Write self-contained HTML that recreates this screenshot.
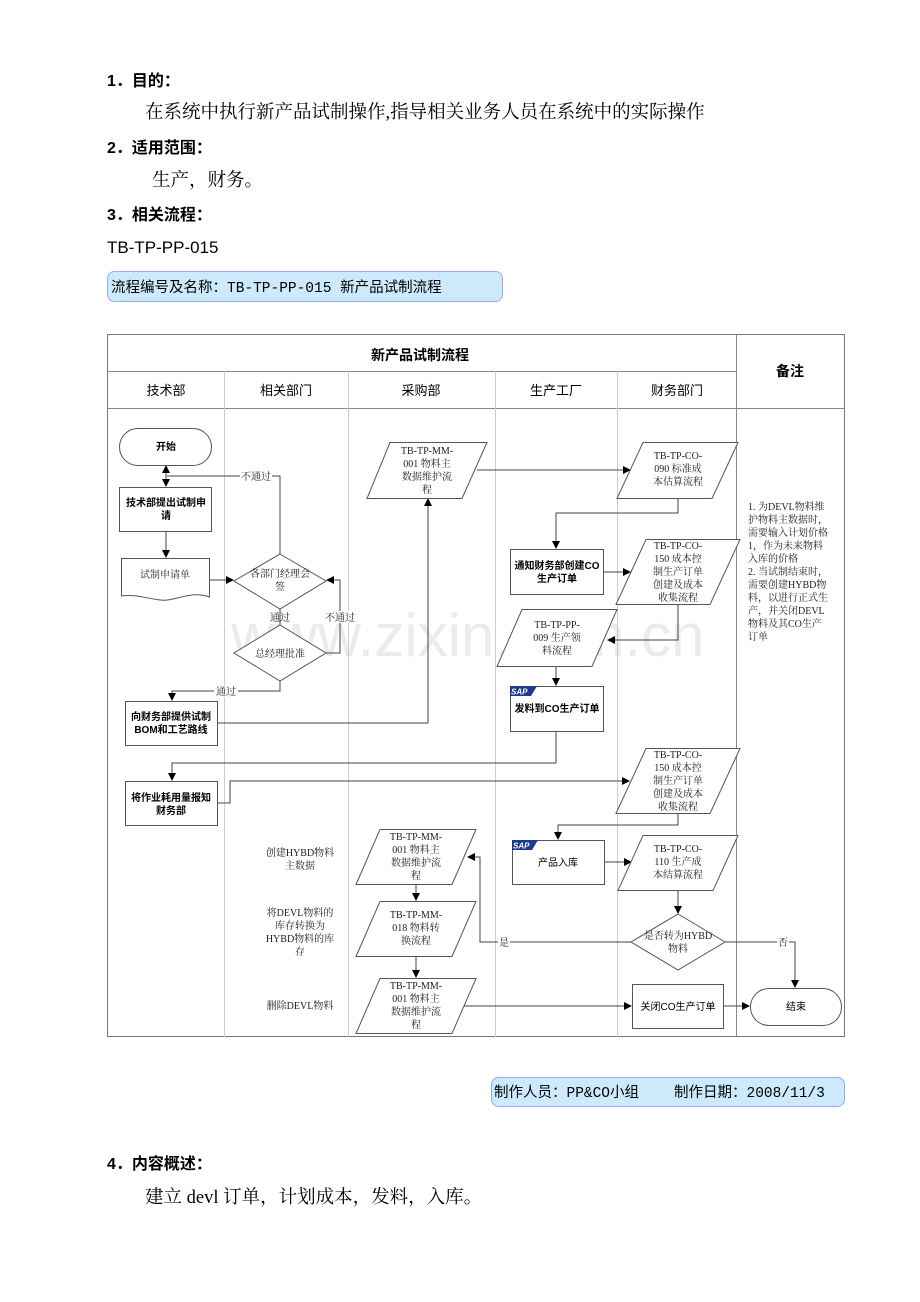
<!DOCTYPE html>
<html><head><meta charset="utf-8">
<style>
html,body{margin:0;padding:0;background:#fff;}
svg{display:block;}
.h{font-family:"Liberation Sans","Noto Sans CJK SC",sans-serif;font-weight:bold;font-size:16px;fill:#000;}
.b{font-family:"Liberation Serif","Noto Serif CJK SC",serif;font-size:18.5px;fill:#000;}
.s{font-family:"Liberation Serif","Noto Serif CJK SC",serif;font-size:10px;fill:#222;}
.sb{font-family:"Liberation Sans","Noto Sans CJK SC",sans-serif;font-size:10px;font-weight:bold;fill:#000;}
.hd{font-family:"Liberation Sans","Noto Sans CJK SC",sans-serif;font-size:13px;fill:#000;}
.m{font-family:"Liberation Mono","Noto Sans CJK SC",monospace;font-size:14.5px;fill:#000;}
.ln{stroke:#444;stroke-width:1;fill:none;}
.sh{stroke:#555;stroke-width:1;fill:#fff;}
</style></head><body>
<svg width="920" height="1302" viewBox="0 0 920 1302" xmlns="http://www.w3.org/2000/svg">
<defs>
<marker id="a" markerWidth="8" markerHeight="8" refX="7" refY="4" orient="auto" markerUnits="userSpaceOnUse">
<path d="M0,0 L8,4 L0,8 z" fill="#000"/></marker>
<marker id="as" markerWidth="8" markerHeight="8" refX="1" refY="4" orient="auto" markerUnits="userSpaceOnUse">
<path d="M8,0 L0,4 L8,8 z" fill="#000"/></marker>
</defs>

<text class="h" x="107" y="86">1．目的：</text>
<text class="b" x="145" y="118">在系统中执行新产品试制操作,指导相关业务人员在系统中的实际操作</text>
<text class="h" x="107" y="153">2．适用范围：</text>
<text class="b" x="152" y="186">生产，财务。</text>
<text class="h" x="107" y="220">3．相关流程：</text>
<text x="107" y="253" style="font-family:'Liberation Sans',sans-serif;font-size:17px;">TB-TP-PP-015</text>
<rect x="107.5" y="271.5" width="395" height="30" rx="7" fill="#cdeafd" stroke="#9aa8f0"/>
<text class="m" x="111" y="292">流程编号及名称：TB-TP-PP-015 新产品试制流程</text>

<text x="231" y="656" style="font-family:'Liberation Sans',sans-serif;font-size:60px;fill:#ebebeb;">www.zixin.com.cn</text>

<rect x="107.5" y="334.5" width="737" height="702" fill="none" stroke="#777"/>
<line x1="107" y1="371.5" x2="736" y2="371.5" stroke="#888"/>
<line x1="107" y1="408.5" x2="845" y2="408.5" stroke="#888"/>
<line x1="736.5" y1="334" x2="736.5" y2="1037" stroke="#888"/>
<line x1="224.5" y1="371" x2="224.5" y2="1037" stroke="#ccc"/>
<line x1="348.5" y1="371" x2="348.5" y2="1037" stroke="#ccc"/>
<line x1="495.5" y1="371" x2="495.5" y2="1037" stroke="#ccc"/>
<line x1="617.5" y1="371" x2="617.5" y2="1037" stroke="#ccc"/>
<text class="hd" x="420" y="360" text-anchor="middle" style="font-size:14px;font-weight:bold">新产品试制流程</text>
<text class="hd" x="790" y="376" text-anchor="middle" style="font-size:14px;font-weight:bold">备注</text>
<text class="hd" x="166" y="395" text-anchor="middle">技术部</text>
<text class="hd" x="286" y="395" text-anchor="middle">相关部门</text>
<text class="hd" x="421" y="395" text-anchor="middle">采购部</text>
<text class="hd" x="556" y="395" text-anchor="middle">生产工厂</text>
<text class="hd" x="677" y="395" text-anchor="middle">财务部门</text>

<g class="s">
<text x="748" y="510">1. 为DEVL物料维</text>
<text x="748" y="523">护物料主数据时，</text>
<text x="748" y="536">需要输入计划价格</text>
<text x="748" y="549">1，作为未来物料</text>
<text x="748" y="562">入库的价格</text>
<text x="748" y="575">2. 当试制结束时，</text>
<text x="748" y="588">需要创建HYBD物</text>
<text x="748" y="601">料，以进行正式生</text>
<text x="748" y="614">产，并关闭DEVL</text>
<text x="748" y="627">物料及其CO生产</text>
<text x="748" y="640">订单</text>
</g>

<line class="ln" x1="166" y1="466" x2="166" y2="486" marker-start="url(#as)" marker-end="url(#a)"/>
<polyline class="ln" points="280,554 280,476 167,476"/>
<rect x="240" y="470" width="32" height="12" fill="#fff"/>
<text class="s" x="256" y="480" text-anchor="middle">不通过</text>
<line class="ln" x1="166" y1="531" x2="166" y2="557" marker-end="url(#a)"/>
<line class="ln" x1="209" y1="580" x2="233" y2="580" marker-end="url(#a)"/>
<line class="ln" x1="280" y1="609" x2="280" y2="625"/>
<text class="s" x="280" y="621" text-anchor="middle">通过</text>
<polyline class="ln" points="326,653 340,653 340,580 327,580" marker-end="url(#a)"/>
<rect x="325" y="611" width="30" height="12" fill="#fff"/>
<text class="s" x="340" y="621" text-anchor="middle">不通过</text>
<polyline class="ln" points="280,681 280,691 172,691 172,700" marker-end="url(#a)"/>
<rect x="214" y="685" width="24" height="12" fill="#fff"/>
<text class="s" x="226" y="695" text-anchor="middle">通过</text>
<polyline class="ln" points="217,723 428,723 428,499" marker-end="url(#a)"/>
<line class="ln" x1="477" y1="470" x2="630" y2="470" marker-end="url(#a)"/>
<polyline class="ln" points="678,498 678,513 556,513 556,548" marker-end="url(#a)"/>
<line class="ln" x1="603" y1="572" x2="630" y2="572" marker-end="url(#a)"/>
<polyline class="ln" points="678,604 678,640 608,640" marker-end="url(#a)"/>
<line class="ln" x1="556" y1="666" x2="556" y2="685" marker-end="url(#a)"/>
<polyline class="ln" points="556,731 556,763 172,763 172,780" marker-end="url(#a)"/>
<polyline class="ln" points="217,803 230,803 230,781 629,781" marker-end="url(#a)"/>
<polyline class="ln" points="678,813 678,825 558,825 558,839" marker-end="url(#a)"/>
<line class="ln" x1="604" y1="862" x2="631" y2="862" marker-end="url(#a)"/>
<line class="ln" x1="678" y1="890" x2="678" y2="913" marker-end="url(#a)"/>
<polyline class="ln" points="631,942 480,942 480,857 468,857" marker-end="url(#a)"/>
<rect x="498" y="936" width="12" height="12" fill="#fff"/>
<text class="s" x="504" y="946" text-anchor="middle">是</text>
<polyline class="ln" points="725,942 795,942 795,987" marker-end="url(#a)"/>
<rect x="777" y="936" width="12" height="12" fill="#fff"/>
<text class="s" x="783" y="946" text-anchor="middle">否</text>
<line class="ln" x1="416" y1="884" x2="416" y2="900" marker-end="url(#a)"/>
<line class="ln" x1="416" y1="956" x2="416" y2="977" marker-end="url(#a)"/>
<line class="ln" x1="462" y1="1006" x2="631" y2="1006" marker-end="url(#a)"/>
<line class="ln" x1="723" y1="1006" x2="749" y2="1006" marker-end="url(#a)"/>

<rect class="sh" x="119.5" y="428.5" width="92" height="37" rx="18.5"/>
<text class="sb" x="166" y="450" text-anchor="middle">开始</text>
<rect class="sh" x="119.5" y="487.5" width="92" height="44"/>
<text class="sb" x="166" y="506" text-anchor="middle">技术部提出试制申</text>
<text class="sb" x="166" y="519" text-anchor="middle">请</text>
<path class="sh" d="M121.5,558.5 H209.5 V597 C190,590 175,602 160,600 C145,598 135,594 121.5,596 Z"/>
<text class="s" x="165" y="578" text-anchor="middle">试制申请单</text>
<path class="sh" d="M280,554 L326,581 L280,609 L234,581 Z"/>
<text class="s" x="280" y="577" text-anchor="middle">各部门经理会</text>
<text class="s" x="280" y="590" text-anchor="middle">签</text>
<path class="sh" d="M280,625 L326,653 L280,681 L234,653 Z"/>
<text class="s" x="280" y="657" text-anchor="middle">总经理批准</text>
<rect class="sh" x="125.5" y="701.5" width="92" height="44"/>
<text class="sb" x="171" y="720" text-anchor="middle">向财务部提供试制</text>
<text class="sb" x="171" y="733" text-anchor="middle">BOM和工艺路线</text>
<rect class="sh" x="125.5" y="781.5" width="92" height="44"/>
<text class="sb" x="171" y="801" text-anchor="middle">将作业耗用量报知</text>
<text class="sb" x="171" y="814" text-anchor="middle">财务部</text>

<g class="s" text-anchor="middle">
<text x="300" y="856">创建HYBD物料</text>
<text x="300" y="869">主数据</text>
<text x="300" y="916">将DEVL物料的</text>
<text x="300" y="929">库存转换为</text>
<text x="300" y="942">HYBD物料的库</text>
<text x="300" y="955">存</text>
<text x="300" y="1009">删除DEVL物料</text>
</g>

<path class="sh" d="M390,442.5 H487 L462,498.5 H367 Z"/>
<g class="s" text-anchor="middle"><text x="427" y="454">TB-TP-MM-</text><text x="427" y="467">001 物料主</text><text x="427" y="480">数据维护流</text><text x="427" y="493">程</text></g>
<path class="sh" d="M380,829.5 H476 L452,884.5 H356 Z"/>
<g class="s" text-anchor="middle"><text x="416" y="840">TB-TP-MM-</text><text x="416" y="853">001 物料主</text><text x="416" y="866">数据维护流</text><text x="416" y="879">程</text></g>
<path class="sh" d="M380,901.5 H476 L452,956.5 H356 Z"/>
<g class="s" text-anchor="middle"><text x="416" y="918">TB-TP-MM-</text><text x="416" y="931">018 物料转</text><text x="416" y="944">换流程</text></g>
<path class="sh" d="M380,978.5 H476 L452,1033.5 H356 Z"/>
<g class="s" text-anchor="middle"><text x="416" y="989">TB-TP-MM-</text><text x="416" y="1002">001 物料主</text><text x="416" y="1015">数据维护流</text><text x="416" y="1028">程</text></g>

<rect class="sh" x="510.5" y="549.5" width="93" height="45"/>
<text class="sb" x="557" y="569" text-anchor="middle">通知财务部创建CO</text>
<text class="sb" x="557" y="582" text-anchor="middle">生产订单</text>
<path class="sh" d="M522,609.5 H617 L592,666.5 H497 Z"/>
<g class="s" text-anchor="middle"><text x="557" y="628">TB-TP-PP-</text><text x="557" y="641">009 生产领</text><text x="557" y="654">料流程</text></g>
<rect class="sh" x="510.5" y="686.5" width="93" height="45"/>
<path d="M510,686 H537 L531,696 H510 Z" fill="#1a3b8f"/>
<text x="511" y="694.5" style="font-family:'Liberation Sans',sans-serif;font-weight:bold;font-style:italic;font-size:8px;fill:#fff">SAP</text>
<text class="sb" x="557" y="712" text-anchor="middle">发料到CO生产订单</text>
<rect class="sh" x="512.5" y="840.5" width="92" height="44"/>
<path d="M512,840 H538 L532,850 H512 Z" fill="#1a3b8f"/>
<text x="513" y="848.5" style="font-family:'Liberation Sans',sans-serif;font-weight:bold;font-style:italic;font-size:8px;fill:#fff">SAP</text>
<text class="sb" x="558" y="866" text-anchor="middle" style="font-weight:normal">产品入库</text>

<path class="sh" d="M643,442.5 H738 L712,498.5 H617 Z"/>
<g class="s" text-anchor="middle"><text x="678" y="459">TB-TP-CO-</text><text x="678" y="472">090 标准成</text><text x="678" y="485">本估算流程</text></g>
<path class="sh" d="M646,539.5 H740 L710,604.5 H616 Z"/>
<g class="s" text-anchor="middle"><text x="678" y="549">TB-TP-CO-</text><text x="678" y="562">150 成本控</text><text x="678" y="575">制生产订单</text><text x="678" y="588">创建及成本</text><text x="678" y="601">收集流程</text></g>
<path class="sh" d="M646,748.5 H740 L710,813.5 H616 Z"/>
<g class="s" text-anchor="middle"><text x="678" y="758">TB-TP-CO-</text><text x="678" y="771">150 成本控</text><text x="678" y="784">制生产订单</text><text x="678" y="797">创建及成本</text><text x="678" y="810">收集流程</text></g>
<path class="sh" d="M643,835.5 H738 L713,890.5 H618 Z"/>
<g class="s" text-anchor="middle"><text x="678" y="852">TB-TP-CO-</text><text x="678" y="865">110 生产成</text><text x="678" y="878">本结算流程</text></g>
<path class="sh" d="M678,914 L725,942 L678,970 L631,942 Z"/>
<g class="s" text-anchor="middle"><text x="678" y="939">是否转为HYBD</text><text x="678" y="952">物料</text></g>
<rect class="sh" x="632.5" y="984.5" width="91" height="44"/>
<text class="sb" x="678" y="1010" text-anchor="middle" style="font-weight:normal">关闭CO生产订单</text>
<rect class="sh" x="750.5" y="988.5" width="91" height="37" rx="18.5"/>
<text class="sb" x="796" y="1010" text-anchor="middle" style="font-weight:normal">结束</text>

<rect x="491.5" y="1077.5" width="353" height="29" rx="7" fill="#cdeafd" stroke="#9aa8f0"/>
<text class="m" x="494" y="1097">制作人员：PP&amp;CO小组</text>
<text class="m" x="674" y="1097">制作日期：2008/11/3</text>
<text class="h" x="107" y="1169">4．内容概述：</text>
<text class="b" x="145" y="1203">建立 devl 订单，计划成本，发料，入库。</text>
</svg>
</body></html>
